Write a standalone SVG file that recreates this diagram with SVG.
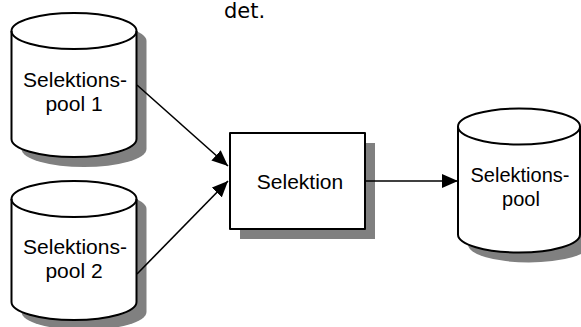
<svg xmlns="http://www.w3.org/2000/svg" width="581" height="327" viewBox="0 0 581 327">
  <style>
    .shadow { fill: #808080; stroke: none; }
    .outline { fill: #ffffff; stroke: #000000; stroke-width: 2; stroke-linejoin: round; }
    .rim { fill: none; stroke: #000000; stroke-width: 2; }
    .label { font-family: "Liberation Sans", Arial, Helvetica, sans-serif; font-size: 21px; fill: #000000; text-anchor: middle; }
    .edge { fill: none; stroke: #000000; stroke-width: 1.6; marker-end: url(#arrow); }
    .caption { font-family: "DejaVu Sans", Verdana, sans-serif; font-size: 21px; fill: #000000; }
  </style>
  <defs>
    <marker id="arrow" markerUnits="userSpaceOnUse" markerWidth="17" markerHeight="14" refX="16" refY="7" orient="auto">
      <path d="M0,0 L16,7 L0,14 Z" fill="#000000"/>
    </marker>
    <!-- cylinder bodies: origin at the centre of the top ellipse -->
    <path id="cylBody" d="M-62.5,0 A62.5,18 0 0 1 62.5,0 L62.5,108 A62.5,18 0 0 1 -62.5,108 Z"/>
    <path id="cylBodyS" d="M-62.5,0 A62.5,18 0 0 1 62.5,0 L62.5,103 A62.5,18 0 0 1 -62.5,103 Z"/>
    <path id="cylRim" d="M-62.5,0 A62.5,18 0 0 0 62.5,0"/>
    <path id="cylBodyR" d="M-61,0 A61,18 0 0 1 61,0 L61,108 A61,18 0 0 1 -61,108 Z"/>
    <path id="cylRimR" d="M-61,0 A61,18 0 0 0 61,0"/>
  </defs>

  <text class="caption" x="224" y="18">det.</text>

  <g id="pool1">
    <use href="#cylBody" class="shadow" transform="translate(84,41)"/>
    <use href="#cylBody" class="outline" transform="translate(74,31)"/>
    <use href="#cylRim" class="rim" transform="translate(74,31)"/>
    <text class="label" x="75" y="87">Selektions-</text>
    <text class="label" x="74" y="111">pool 1</text>
  </g>

  <g id="pool2">
    <use href="#cylBodyS" class="shadow" transform="translate(84,209)"/>
    <use href="#cylBodyS" class="outline" transform="translate(74,199)"/>
    <use href="#cylRim" class="rim" transform="translate(74,199)"/>
    <text class="label" x="75" y="254">Selektions-</text>
    <text class="label" x="74" y="278">pool 2</text>
  </g>

  <g id="selektion">
    <rect class="shadow" x="240" y="143" width="135" height="96"/>
    <rect class="outline" x="230" y="133" width="135" height="96"/>
    <text class="label" x="300" y="189">Selektion</text>
  </g>

  <g id="pool">
    <use href="#cylBodyR" class="shadow" transform="translate(529,136.5)"/>
    <use href="#cylBodyR" class="outline" transform="translate(519,126.5)"/>
    <use href="#cylRimR" class="rim" transform="translate(519,126.5)"/>
    <text class="label" x="520" y="182" style="font-size:20px">Selektions-</text>
    <text class="label" x="521" y="206" style="font-size:20px">pool</text>
  </g>

  <g id="connectors">
    <line class="edge" x1="137" y1="85" x2="228" y2="166"/>
    <line class="edge" x1="137" y1="274" x2="228" y2="181"/>
    <line class="edge" x1="365" y1="181" x2="458" y2="181"/>
  </g>
</svg>
